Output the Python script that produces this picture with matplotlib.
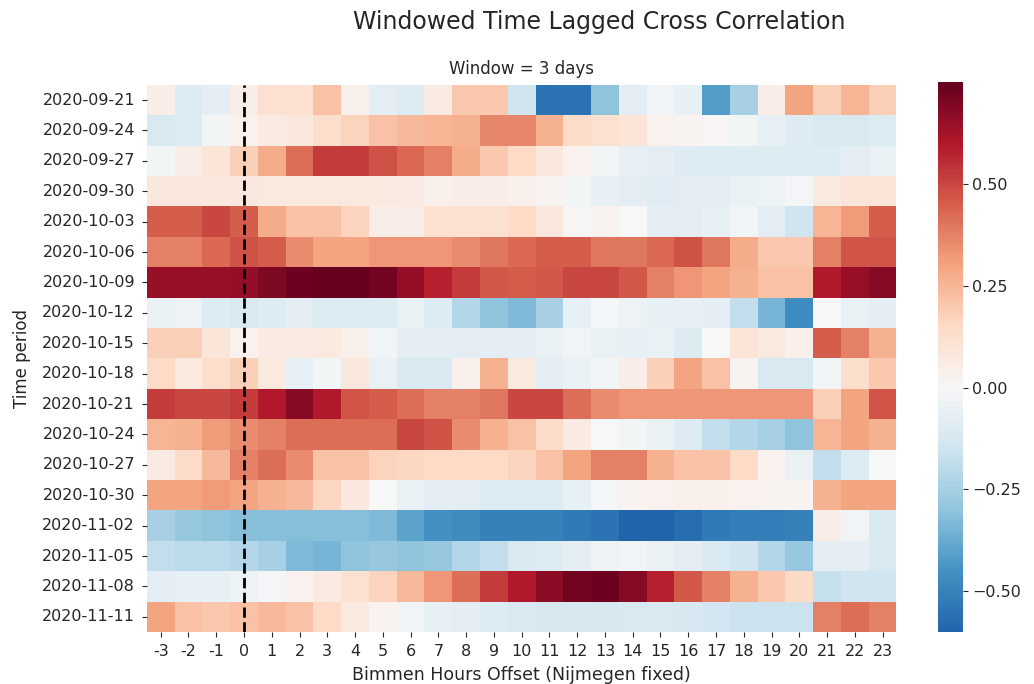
import numpy as np
import pandas as pd
import matplotlib
matplotlib.use("Agg")
import matplotlib.pyplot as plt
import seaborn as sns

offsets = list(range(-3, 24))
periods = ['2020-09-21', '2020-09-24', '2020-09-27', '2020-09-30', '2020-10-03',
           '2020-10-06', '2020-10-09', '2020-10-12', '2020-10-15', '2020-10-18',
           '2020-10-21', '2020-10-24', '2020-10-27', '2020-10-30', '2020-11-02',
           '2020-11-05', '2020-11-08', '2020-11-11']

# correlation per window, columns = offsets -3..23
corr = [
    [0.05, -0.10, -0.07, 0.05, 0.12, 0.12, 0.22, 0.04, -0.08, -0.10, 0.06, 0.20, 0.20, -0.15,
     -0.55, -0.55, -0.30, -0.08, -0.03, -0.06, -0.42, -0.25, 0.05, 0.30, 0.18, 0.25, 0.18],
    [-0.12, -0.10, -0.02, 0.03, 0.06, 0.08, 0.13, 0.17, 0.22, 0.24, 0.25, 0.27, 0.37, 0.37,
     0.27, 0.14, 0.12, 0.10, 0.03, 0.02, 0.01, -0.02, -0.06, -0.10, -0.12, -0.12, -0.10],
    [-0.02, 0.05, 0.10, 0.18, 0.28, 0.42, 0.52, 0.52, 0.48, 0.43, 0.38, 0.28, 0.20, 0.15,
     0.08, 0.03, -0.02, -0.06, -0.08, -0.10, -0.10, -0.10, -0.10, -0.10, -0.10, -0.08, -0.05],
    [0.08, 0.08, 0.08, 0.08, 0.07, 0.07, 0.07, 0.07, 0.07, 0.06, 0.04, 0.05, 0.05, 0.04,
     0.02, -0.02, -0.06, -0.08, -0.09, -0.08, -0.07, -0.05, -0.04, -0.01, 0.07, 0.10, 0.10],
    [0.45, 0.45, 0.50, 0.45, 0.28, 0.22, 0.22, 0.17, 0.05, 0.05, 0.12, 0.12, 0.12, 0.15,
     0.08, 0.01, 0.02, 0.00, -0.07, -0.08, -0.06, -0.03, -0.08, -0.15, 0.25, 0.32, 0.45],
    [0.38, 0.38, 0.43, 0.48, 0.45, 0.35, 0.30, 0.30, 0.33, 0.33, 0.33, 0.35, 0.40, 0.43,
     0.45, 0.45, 0.40, 0.40, 0.43, 0.48, 0.40, 0.28, 0.20, 0.20, 0.38, 0.47, 0.47],
    [0.65, 0.65, 0.65, 0.66, 0.70, 0.73, 0.75, 0.75, 0.72, 0.66, 0.58, 0.52, 0.46, 0.45,
     0.46, 0.50, 0.50, 0.46, 0.38, 0.33, 0.30, 0.27, 0.22, 0.22, 0.60, 0.65, 0.68],
    [-0.05, -0.04, -0.10, -0.12, -0.10, -0.08, -0.10, -0.10, -0.10, -0.05, -0.10, -0.22, -0.30, -0.33,
     -0.25, -0.06, -0.01, -0.04, -0.06, -0.06, -0.07, -0.18, -0.35, -0.47, 0.00, -0.05, -0.07],
    [0.18, 0.18, 0.10, 0.03, 0.06, 0.06, 0.07, 0.04, -0.03, -0.07, -0.07, -0.08, -0.08, -0.08,
     -0.05, -0.03, -0.05, -0.06, -0.05, -0.10, 0.00, 0.10, 0.07, 0.04, 0.45, 0.38, 0.27],
    [0.15, 0.07, 0.13, 0.18, 0.07, -0.06, -0.02, 0.08, -0.05, -0.12, -0.12, 0.04, 0.27, 0.07,
     -0.07, -0.05, -0.02, 0.05, 0.18, 0.30, 0.22, 0.02, -0.12, -0.12, -0.02, 0.13, 0.20],
    [0.52, 0.50, 0.50, 0.52, 0.60, 0.68, 0.60, 0.47, 0.45, 0.42, 0.38, 0.38, 0.40, 0.50,
     0.50, 0.42, 0.35, 0.33, 0.33, 0.33, 0.33, 0.33, 0.33, 0.33, 0.18, 0.30, 0.47],
    [0.25, 0.27, 0.32, 0.35, 0.38, 0.42, 0.42, 0.42, 0.42, 0.50, 0.48, 0.35, 0.27, 0.22,
     0.14, 0.06, 0.00, -0.02, -0.05, -0.10, -0.18, -0.22, -0.25, -0.30, 0.25, 0.30, 0.27],
    [0.06, 0.14, 0.24, 0.38, 0.42, 0.35, 0.22, 0.22, 0.17, 0.16, 0.15, 0.15, 0.15, 0.17,
     0.22, 0.30, 0.38, 0.38, 0.27, 0.22, 0.22, 0.15, 0.03, -0.05, -0.18, -0.10, 0.00],
    [0.30, 0.30, 0.32, 0.30, 0.27, 0.24, 0.16, 0.08, 0.00, -0.05, -0.08, -0.08, -0.10, -0.10,
     -0.10, -0.06, -0.01, 0.02, 0.03, 0.04, 0.04, 0.03, 0.02, 0.02, 0.27, 0.30, 0.30],
    [-0.25, -0.28, -0.30, -0.32, -0.32, -0.32, -0.32, -0.32, -0.33, -0.40, -0.45, -0.47, -0.50, -0.50,
     -0.50, -0.53, -0.55, -0.60, -0.60, -0.57, -0.53, -0.52, -0.52, -0.50, 0.05, -0.03, -0.12],
    [-0.18, -0.20, -0.20, -0.22, -0.25, -0.33, -0.35, -0.30, -0.28, -0.30, -0.28, -0.22, -0.18, -0.12,
     -0.10, -0.07, -0.04, -0.03, -0.05, -0.08, -0.12, -0.15, -0.22, -0.28, -0.08, -0.08, -0.12],
    [-0.07, -0.06, -0.06, -0.04, -0.01, 0.03, 0.06, 0.12, 0.17, 0.24, 0.33, 0.42, 0.52, 0.60,
     0.67, 0.72, 0.73, 0.68, 0.58, 0.46, 0.38, 0.27, 0.20, 0.15, -0.17, -0.15, -0.15],
    [0.30, 0.22, 0.20, 0.22, 0.24, 0.22, 0.15, 0.07, 0.02, -0.03, -0.06, -0.07, -0.10, -0.12,
     -0.13, -0.13, -0.13, -0.12, -0.12, -0.13, -0.14, -0.16, -0.16, -0.16, 0.38, 0.42, 0.38],
]

df = pd.DataFrame(corr, index=periods, columns=offsets)

txt = '#262626'
plt.rcParams['text.color'] = txt
plt.rcParams['axes.labelcolor'] = txt
plt.rcParams['xtick.color'] = txt
plt.rcParams['ytick.color'] = txt

fig = plt.figure(figsize=(10.34, 6.84), dpi=100)
ax = fig.add_axes([0.142, 0.076, 0.725, 0.80])
cax = fig.add_axes([0.907, 0.076, 0.024, 0.804])

sns.heatmap(df, cmap='RdBu_r', center=0, vmin=-0.6, vmax=0.75, ax=ax, cbar_ax=cax)
ax.axvline(offsets.index(0) + 0.5, color='k', linestyle='--', linewidth=2)

ax.set_title('Window = 3 days', fontsize=12, pad=8)
ax.set_xlabel('Bimmen Hours Offset (Nijmegen fixed)', fontsize=12.5, labelpad=5)
ax.set_ylabel('Time period', fontsize=12, labelpad=8)
ax.tick_params(labelsize=11.5, pad=5)
plt.setp(ax.get_yticklabels(), rotation=0)
plt.setp(ax.get_xticklabels(), rotation=0)
cax.set_yticks([-0.5, -0.25, 0, 0.25, 0.5])
cax.tick_params(labelsize=11.5)
fig.suptitle('Windowed Time Lagged Cross Correlation', fontsize=17, x=0.58, y=0.985)

fig.savefig('out.png', dpi=100)
